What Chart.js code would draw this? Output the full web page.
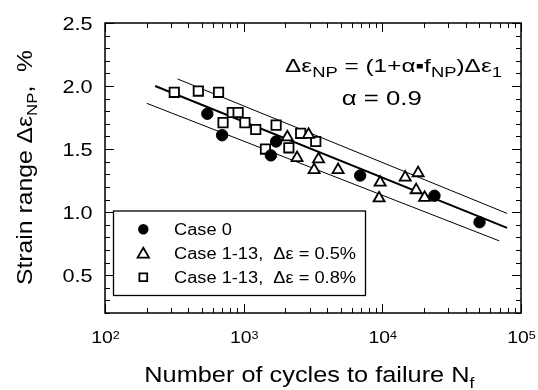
<!DOCTYPE html>
<html>
<head>
<meta charset="utf-8">
<script src="https://cdn.jsdelivr.net/npm/chart.js@4.4.1/dist/chart.umd.min.js"></script>
<style>
    body { margin: 0; background: #fff; }
    canvas { display: block; }
</style>
</head>
<body>
<canvas id="fatigueChart" width="538" height="390"></canvas>
<script>
// Case 0 (filled circles)
const case0Cycles = [547, 699, 1714, 1571, 6918, 23770, 50230];
const case0Strain = [1.78, 1.61, 1.56, 1.45, 1.29, 1.13, 0.92];

// Case 1-13, strain 0.5% (open triangles)
const case05Cycles = [2065, 2938, 2427, 3467, 3222, 4797, 9640, 9480, 14620, 18120, 17540, 20180];
const case05Strain = [1.595, 1.615, 1.43, 1.42, 1.335, 1.335, 1.235, 1.11, 1.275, 1.31, 1.175, 1.115];

// Case 1-13, strain 0.8% (open squares)
const case08Cycles = [316, 471, 659, 828, 912, 710, 1021, 1222, 1436, 1714, 2118, 2577, 3311];
const case08Strain = [1.95, 1.96, 1.95, 1.79, 1.79, 1.71, 1.71, 1.655, 1.50, 1.69, 1.51, 1.625, 1.56];

// best fit line and scatter band
const fitCycles = [230, 79400];
const fitStrain = [2.00, 0.875];
const upperCycles = [334, 79400];
const upperStrain = [2.056, 0.99];
const lowerCycles = [200, 69700];
const lowerStrain = [1.863, 0.772];

// axis labels
const yTickLabels = ['0.5', '1.0', '1.5', '2.0', '2.5'];
const xTickExponents = ['2', '3', '4', '5'];
const legendLabels = ['Case 0', 'Case 1-13,  Δε = 0.5%', 'Case 1-13,  Δε = 0.8%'];

const FONT = '"Liberation Sans", Arial, "DejaVu Sans", sans-serif';
const SX = 1.14; // the original text is a bit wider than Arial

function toPoints(xs, ys) {
    return xs.map((x, i) => ({ x: x, y: ys[i] }));
}

// draw text made of runs [text, size, dy], stretched horizontally
function drawRuns(ctx, runs, x, y, align, targetW) {
    let w = 0;
    runs.forEach(r => {
        ctx.font = r[1] + 'px ' + FONT;
        w += ctx.measureText(r[0]).width;
    });
    const sx = targetW ? targetW / w : SX;
    let cx = x;
    if (align === 'center') cx = x - w * sx / 2;
    if (align === 'right') cx = x - w * sx;
    ctx.save();
    ctx.textAlign = 'left';
    ctx.textBaseline = 'alphabetic';
    ctx.fillStyle = '#000';
    runs.forEach(r => {
        ctx.font = r[1] + 'px ' + FONT;
        const rw = ctx.measureText(r[0]).width;
        ctx.save();
        ctx.translate(cx, y + (r[2] || 0));
        ctx.scale(sx, 1);
        ctx.fillText(r[0], 0, 0);
        ctx.restore();
        cx += rw * sx;
    });
    ctx.restore();
}

function drawMarker(ctx, style, x, y, r) {
    ctx.beginPath();
    if (style === 'circle') {
        ctx.arc(x, y, r, 0, Math.PI * 2);
        ctx.fillStyle = '#000';
        ctx.fill();
        return;
    }
    if (style === 'triangle') {
        ctx.moveTo(x, y - r);
        ctx.lineTo(x + 0.866 * r, y + 0.5 * r);
        ctx.lineTo(x - 0.866 * r, y + 0.5 * r);
        ctx.closePath();
    } else {
        ctx.rect(x - r, y - r, 2 * r, 2 * r);
    }
    ctx.fillStyle = '#fff';
    ctx.fill();
    ctx.lineWidth = 1.8;
    ctx.strokeStyle = '#000';
    ctx.stroke();
}

// frame, inward ticks, labels, titles, legend and equation
const framePlugin = {
    id: 'frame',
    afterDraw(chart) {
        const ctx = chart.ctx;
        const a = chart.chartArea;
        const xs = chart.scales.x;
        const ys = chart.scales.y;

        ctx.save();
        ctx.strokeStyle = '#000';
        ctx.lineWidth = 1.5;
        ctx.strokeRect(a.left, a.top, a.right - a.left, a.bottom - a.top);

        // y ticks every 0.1, major every 0.5
        ctx.lineWidth = 1;
        ctx.beginPath();
        for (let i = 2; i <= 25; i++) {
            const y = Math.round(ys.getPixelForValue(i / 10)) + 0.5;
            const len = i % 5 === 0 ? 9 : 5;
            ctx.moveTo(a.left, y); ctx.lineTo(a.left + len, y);
            ctx.moveTo(a.right, y); ctx.lineTo(a.right - len, y);
        }
        // x ticks, log decades
        for (let e = 2; e <= 4; e++) {
            for (let m = 1; m <= 10; m++) {
                const x = Math.round(xs.getPixelForValue(m * Math.pow(10, e))) + 0.5;
                const len = (m === 1 || m === 10) ? 9 : 5;
                ctx.moveTo(x, a.bottom); ctx.lineTo(x, a.bottom - len);
                ctx.moveTo(x, a.top); ctx.lineTo(x, a.top + len);
            }
        }
        ctx.stroke();

        yTickLabels.forEach(t => {
            drawRuns(ctx, [[t, 19]], a.left - 12.5, ys.getPixelForValue(parseFloat(t)) + 6.8, 'right');
        });
        xTickExponents.forEach(e => {
            const x = xs.getPixelForValue(Math.pow(10, parseInt(e)));
            drawRuns(ctx, [['10', 17], [e, 11, -4.5]], x + 0.5, 343, 'center');
        });

        // axis titles
        drawRuns(ctx, [['Number of cycles to failure N', 22], ['f', 15, 6]], 144.3, 382.3, 'left', 330);
        ctx.save();
        ctx.translate(31.5, 167.5);
        ctx.rotate(-Math.PI / 2);
        drawRuns(ctx, [['Strain range Δε', 22], ['NP', 15, 5], [',  %', 22]], 0, 0, 'center', 235);
        ctx.restore();

        // equation
        drawRuns(ctx, [['Δε', 18.5], ['NP', 14, 5], [' = (1+α▪f', 18.5], ['NP', 14, 5], [')Δε', 18.5], ['1', 14, 5]],
            285, 72.3, 'left', 217);
        drawRuns(ctx, [['α = 0.9', 21]], 341.7, 105.3, 'left', 80);

        // legend box
        ctx.fillStyle = '#fff';
        ctx.fillRect(113.5, 211, 252, 84.5);
        ctx.lineWidth = 1.3;
        ctx.strokeStyle = '#000';
        ctx.strokeRect(113.5, 211, 252, 84.5);
        const styles = ['circle', 'triangle', 'rect'];
        const sizes = [5.2, 6.6, 3.9];
        legendLabels.forEach((label, i) => {
            const y = 229.3 + i * 24;
            drawMarker(ctx, styles[i], 143.3, styles[i] === 'triangle' ? y + 1 : y, sizes[i]);
            drawRuns(ctx, [[label, 16]], 174, y + 5.7, 'left');
        });
        ctx.restore();
    }
};

const ctx = document.getElementById('fatigueChart').getContext('2d');

new Chart(ctx, {
    type: 'scatter',
    data: {
        datasets: [{
            label: legendLabels[0],
            data: toPoints(case0Cycles, case0Strain),
            pointStyle: 'circle',
            pointRadius: 5.7,
            backgroundColor: '#000',
            borderColor: '#000',
            borderWidth: 1
        }, {
            label: legendLabels[1],
            data: toPoints(case05Cycles, case05Strain),
            pointStyle: 'triangle',
            pointRadius: 6.4,
            backgroundColor: '#fff',
            borderColor: '#000',
            borderWidth: 1.8
        }, {
            label: legendLabels[2],
            data: toPoints(case08Cycles, case08Strain),
            pointStyle: 'rect',
            pointRadius: 6.6,
            backgroundColor: '#fff',
            borderColor: '#000',
            borderWidth: 1.8
        }, {
            label: 'fit',
            data: toPoints(fitCycles, fitStrain),
            showLine: true,
            pointRadius: 0,
            borderColor: '#000',
            borderWidth: 2
        }, {
            label: 'upper',
            data: toPoints(upperCycles, upperStrain),
            showLine: true,
            pointRadius: 0,
            borderColor: '#000',
            borderWidth: 1
        }, {
            label: 'lower',
            data: toPoints(lowerCycles, lowerStrain),
            showLine: true,
            pointRadius: 0,
            borderColor: '#000',
            borderWidth: 1
        }]
    },
    options: {
        responsive: false,
        animation: false,
        layout: {
            padding: { top: 23, right: 17, left: 0, bottom: 0 }
        },
        plugins: {
            legend: { display: false },
            tooltip: { enabled: false }
        },
        scales: {
            x: {
                type: 'logarithmic',
                min: 100,
                max: 100000,
                ticks: { display: false },
                grid: { display: false, drawTicks: false },
                border: { display: false },
                afterFit: function (scale) { scale.height = 77; }
            },
            y: {
                min: 0.2,
                max: 2.5,
                ticks: { display: false },
                grid: { display: false, drawTicks: false },
                border: { display: false },
                afterFit: function (scale) { scale.width = 105; }
            }
        }
    },
    plugins: [framePlugin]
});
</script>
</body>
</html>
